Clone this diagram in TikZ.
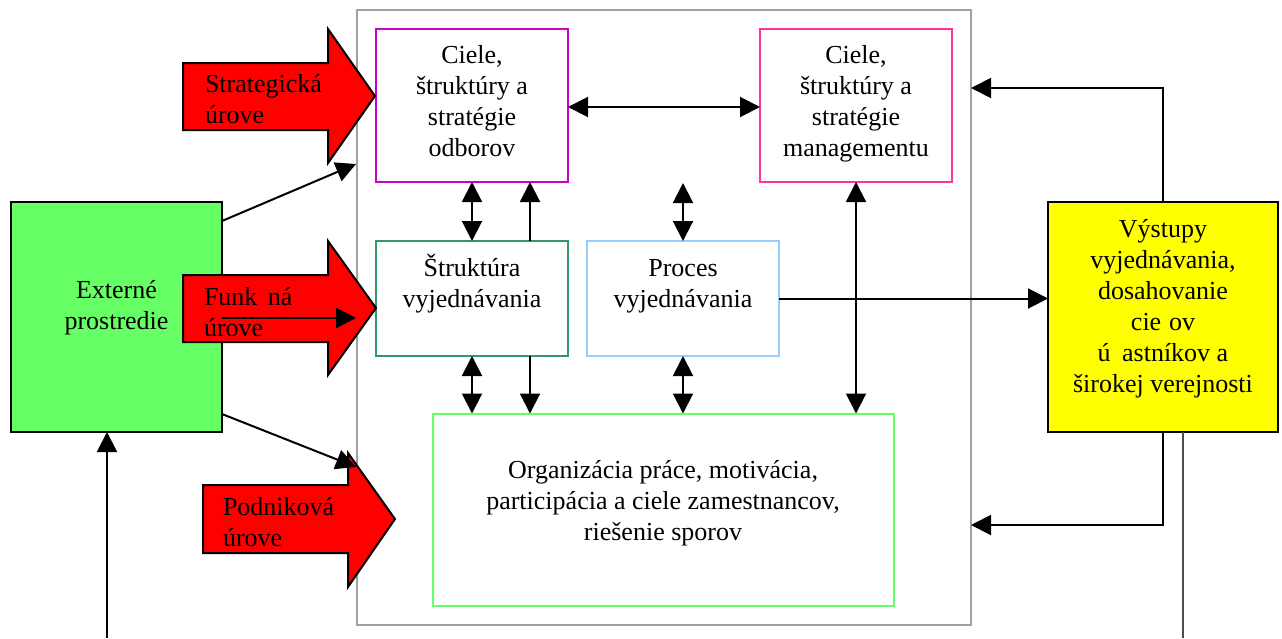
\documentclass[tikz,border=0pt]{standalone}
\usepackage{fontspec}
\setmainfont{Liberation Serif}
\usetikzlibrary{arrows.meta}
\definecolor{framegray}{HTML}{A0A0A0}
\definecolor{boxmag}{HTML}{CC00CC}
\definecolor{boxpink}{HTML}{FF3399}
\definecolor{boxdkgreen}{HTML}{339966}
\definecolor{boxblue}{HTML}{99CCFF}
\definecolor{boxltgreen}{HTML}{66FF66}
\definecolor{envgreen}{HTML}{66FF66}
\definecolor{outyellow}{HTML}{FFFF00}
\definecolor{levelred}{HTML}{FF0000}
\begin{document}
\begin{tikzpicture}[x=1pt,y=-1pt,
  box/.style={draw=#1, line width=2pt, inner sep=0pt, outer sep=0pt},
  txt/.style={inner sep=0pt, outer sep=0pt, font=\fontsize{26}{31}\selectfont, align=center, anchor=north},
  ltxt/.style={txt, align=left, anchor=north west},
  level/.style={fill=levelred, draw=black, line width=2pt, line join=miter},
  conn/.style={draw=black, line width=2pt, >={Triangle[length=20pt,width=20pt]}},
  gline/.style={draw=black!70, line width=2pt}]
\useasboundingbox (0,0) rectangle (1282,638);

% outer frame of the enterprise
\node[box=framegray, minimum width=614, minimum height=615] (frame) at (664,317.5) {};

% inner boxes
\node[box=boxmag, minimum width=192, minimum height=153] (b1) at (472,105.5) {};
\node[box=boxpink, minimum width=192, minimum height=153] (b2) at (856,105.5) {};
\node[box=boxdkgreen, minimum width=192, minimum height=115] (bs) at (472,298.5) {};
\node[box=boxblue, minimum width=192, minimum height=115] (bp) at (683,298.5) {};
\node[box=boxltgreen, minimum width=461, minimum height=192] (bo) at (663.5,509.5) {};

% environment and outputs
\node[box=black, fill=envgreen, minimum width=211, minimum height=230] (ext) at (116.5,317) {};
\node[box=black, fill=outyellow, minimum width=230, minimum height=230] (out) at (1163,317) {};

% level arrows
\draw[level] (183,63) -- (328,63) -- (328,29) -- (375,96) -- (328,163) -- (328,130) -- (183,130) -- cycle;
\draw[level] (183,275) -- (328,275) -- (328,241) -- (376,308) -- (328,375) -- (328,342) -- (183,342) -- cycle;
\draw[level] (203,485) -- (348,485) -- (348,453) -- (395,519) -- (348,587) -- (348,553) -- (203,553) -- cycle;

% texts
\node[txt] (b1t) at (472,39) {\rule{0pt}{24pt}Ciele,\\ štruktúry a\\ stratégie\\ odborov};
\node[txt] (b2t) at (856,39) {\rule{0pt}{24pt}Ciele,\\ štruktúry a\\ stratégie\\ managementu};
\node[txt] (bst) at (472,252) {\rule{0pt}{24pt}Štruktúra\\ vyjednávania};
\node[txt] (bpt) at (683,252) {\rule{0pt}{24pt}Proces\\ vyjednávania};
\node[txt] (bot) at (663,454) {\rule{0pt}{24pt}Organizácia práce, motivácia,\\ participácia a ciele zamestnancov,\\ riešenie sporov};
\node[txt] (extt) at (116.5,274) {\rule{0pt}{24pt}Externé\\ prostredie};
\node[txt] (outt) at (1163,213) {\rule{0pt}{24pt}Výstupy\\ vyjednávania,\\ dosahovanie\\ cie\hspace{0.3em}ov\\ ú\hspace{0.44em}astníkov a\\ širokej verejnosti};
\node[ltxt] (l1t) at (205,68) {\rule{0pt}{24pt}Strategická\\ úrove};
\node[ltxt] (l2t) at (204,281) {\rule{0pt}{24pt}Funk\hspace{0.4em}ná\\ úrove};
\node[ltxt] (l3t) at (223,491) {\rule{0pt}{24pt}Podniková\\ úrove};

% helper points
\coordinate (e1) at (222,221);
\coordinate (t1) at (356,164);
\coordinate (e2) at (222,414);
\coordinate (t2) at (356,467);
\coordinate (e3) at (222,318);
\coordinate (t3) at (356,318);
\coordinate (pfree) at (683,183);
\coordinate (ytop) at (0,88);
\coordinate (ybot) at (0,525);
\coordinate (oend) at (1183,638);
\coordinate (ein) at (107,638);
\coordinate (s2n) at ([xshift=58pt]bs.north);
\coordinate (s2s) at ([xshift=58pt]bs.south);
\coordinate (b1r) at ([xshift=58pt]b1.south);
\coordinate (hl) at ([yshift=-1.5pt]b1.east);
\coordinate (hr) at ([yshift=-1.5pt]b2.west);

% connectors
\draw[conn,<->] (hl) -- (hr);
\draw[conn,<->] (b1.south) -- (bs.north);
\draw[conn,->] (s2n) -- (b1r);
\draw[conn,<->] (pfree) -- (bp.north);
\draw[conn,<->] (b2.south) -- (b2.south |- bo.north);
\draw[conn,<->] (bs.south) -- (bs.south |- bo.north);
\draw[conn,->] (s2s) -- (s2s |- bo.north);
\draw[conn,<->] (bp.south) -- (bp.south |- bo.north);
\draw[conn,->] (bp.east) -- (bp.east -| out.west);
\draw[conn,->] (out.north) -- (out.north |- ytop) -- (frame.east |- ytop);
\draw[conn,->] (out.south) -- (out.south |- ybot) -- (frame.east |- ybot);
\draw[gline] (oend |- out.south) -- (oend);
\draw[conn,->] (ein) -- (ein |- ext.south);
\draw[conn,->] (e1) -- (t1);
\draw[conn,->] (e2) -- (t2);
\draw[conn,->] (e3) -- (t3);
\end{tikzpicture}
\end{document}
